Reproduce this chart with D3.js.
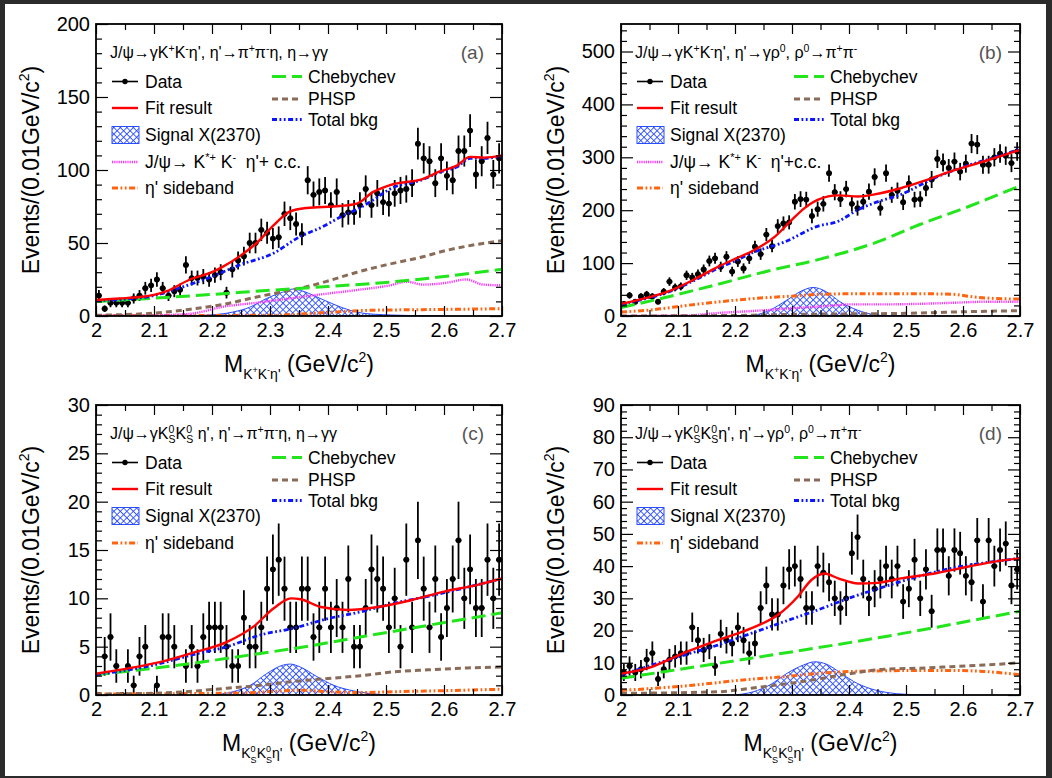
<!DOCTYPE html>
<html><head><meta charset="utf-8">
<script src="https://cdn.jsdelivr.net/npm/d3@7"></script>
<style>
html,body{margin:0;padding:0;background:#2b2b2b;}
svg{display:block;}
text{font-family:"Liberation Sans",Arial,Helvetica,sans-serif;white-space:pre;}
</style></head><body>
<svg id="chart" width="1052" height="778"></svg>
<script>
// ---------------- data ----------------
const massLow = 2.0, binWidth = 0.01;
const xTickValues = [2.0, 2.1, 2.2, 2.3, 2.4, 2.5, 2.6, 2.7];
const xTickLabels = ["2", "2.1", "2.2", "2.3", "2.4", "2.5", "2.6", "2.7"];
const xMinorTicks = [2.05, 2.15, 2.25, 2.35, 2.45, 2.55, 2.65];

const yTicksA = [0, 50, 100, 150, 200];
const yTicksB = [0, 100, 200, 300, 400, 500];
const yTicksC = [0, 5, 10, 15, 20, 25, 30];
const yTicksD = [0, 10, 20, 30, 40, 50, 60, 70, 80, 90];

// events per 0.01 GeV bin, 2.00 - 2.70
const eventsA = [14,5,9,9,9,9,12,14,19,21, 25,19,14,17,18,35,26,26,27,25, 28,30,16,32,38,41,50,50,59,57,
  53,54,70,67,63,56,93,83,85,86, 76,85,69,71,71,76,87,76,84,78, 77,84,86,87,91,118,108,106,91,108,
  96,93,113,113,127,97,106,122,97,108];
const eventsB = [23,39,27,37,41,37,27,46,65,54, 56,77,73,79,88,104,109,93,112,84, 103,90,109,131,117,154,132,170,175,177,
  216,221,220,189,202,212,270,234,221,240, 212,204,216,235,263,204,270,229,237,215, 250,220,221,242,258,297,290,280,292,273,
  288,326,324,286,286,300,307,303,289,311];
const eventsC = [0,4,6,3,0,3,1,4,5,0, 1,6,6,5,0,3,5,3,6,7, 7,7,5,3,3,8,5,5,7,11,
  13,14,11,7,7,11,11,6,7,11, 7,9,7,12,5,5,9,13,12,11, 7,10,5,14,7,16,11,7,12,6,
  9,12,16,10,13,9,9,14,10,14];
const eventsD = [7,9,7,8,11,13,5,8,11,12, 13,13,21,17,14,15,9,19,17,16, 21,17,13,16,27,34,25,25,34,39,
  40,36,27,27,40,38,35,30,27,30, 44,49,36,30,33,36,40,36,40,29, 33,42,30,39,26,45,45,37,45,44,
  37,35,48,29,48,40,45,47,34,39];

// curves: [mass, events]
const fitA = [[2.0,11],[2.04,12],[2.076,13],[2.1,14.5],[2.122,17],[2.162,25],[2.2,30],[2.219,33.8],[2.248,41],[2.277,50],[2.306,62],[2.334,71.5],[2.363,74],[2.42,75.3],[2.45,77],[2.478,85],[2.507,89.7],[2.564,94],[2.593,99],[2.622,103],[2.645,109],[2.67,108.5],[2.7,110]];
const bkgA = [[2.0,10.5],[2.05,11.5],[2.1,14],[2.15,20],[2.2,27],[2.248,35],[2.306,43],[2.35,54],[2.39,61],[2.425,68.5],[2.45,73],[2.478,79.5],[2.507,87],[2.564,93.5],[2.593,98.5],[2.622,102],[2.645,108],[2.67,108],[2.7,109.5]];
const chebA = [[2.0,10],[2.1,12.2],[2.2,14.8],[2.3,17.6],[2.4,20.2],[2.5,23],[2.6,27],[2.7,32]];
const phspA = [[2.0,0.5],[2.1,2],[2.16,4.5],[2.22,8],[2.277,13],[2.32,16.5],[2.363,20],[2.4,24],[2.45,30],[2.5,35],[2.564,40.6],[2.6,44.5],[2.65,48.6],[2.7,51.5]];
const kstA = [[2.0,0.3],[2.1,0.5],[2.162,1.5],[2.22,6.4],[2.277,9.1],[2.334,12],[2.392,15],[2.45,17.8],[2.507,21],[2.536,23.5],[2.564,21.5],[2.6,22.5],[2.639,25],[2.668,21.5],[2.7,21]];
const sbA = [[2.0,0.3],[2.3,0.5],[2.36,1.5],[2.41,2.7],[2.47,3.9],[2.55,4.3],[2.62,4.6],[2.7,5]];
const sigA = [[2.15,0],[2.2,0.8],[2.236,2.7],[2.265,6],[2.294,12],[2.323,16.5],[2.34,18.5],[2.352,17.6],[2.381,13],[2.41,8],[2.438,3.9],[2.467,1.6],[2.525,0.5],[2.6,0]];

const fitB = [[2.0,23],[2.04,33],[2.082,46],[2.13,70],[2.17,93],[2.2,108],[2.229,122],[2.27,150],[2.298,180],[2.322,204],[2.346,220],[2.381,228],[2.416,226],[2.445,230],[2.492,242],[2.522,252],[2.58,274],[2.639,293],[2.674,305],[2.7,314]];
const bkgB = [[2.0,22],[2.04,32],[2.082,45],[2.13,68],[2.17,90],[2.2,104],[2.229,119],[2.287,140],[2.346,170],[2.381,179],[2.416,201],[2.445,214],[2.492,230],[2.55,261],[2.61,285],[2.674,306],[2.7,316]];
const chebB = [[2.0,16],[2.074,34],[2.17,60],[2.258,85],[2.351,108],[2.45,140],[2.522,172],[2.61,207],[2.7,246]];
const phspB = [[2.0,0],[2.2,1],[2.3,3],[2.4,4],[2.5,5],[2.6,8],[2.7,10]];
const kstB = [[2.0,0],[2.115,1],[2.174,6],[2.232,9.5],[2.291,14],[2.349,18],[2.408,22],[2.466,22],[2.525,23],[2.583,25],[2.642,27],[2.7,27]];
const sbB = [[2.0,7.6],[2.057,12],[2.115,20],[2.174,27],[2.232,33],[2.291,37],[2.349,41],[2.408,42],[2.466,42],[2.525,42],[2.583,41],[2.612,37],[2.642,34],[2.7,32]];
const sigB = [[2.2,0],[2.232,1.5],[2.261,11],[2.291,30],[2.32,49],[2.337,54],[2.36,46],[2.384,27],[2.408,14],[2.437,4],[2.466,0.5],[2.5,0]];

const fitC = [[2.0,2.2],[2.06,2.8],[2.11,3.4],[2.169,4.4],[2.226,5.5],[2.272,7.1],[2.307,9.0],[2.336,10],[2.353,9.9],[2.388,9.1],[2.434,8.8],[2.486,9.1],[2.543,9.8],[2.6,10.7],[2.658,11.4],[2.7,12.05]];
const bkgC = [[2.0,2.1],[2.1,3.1],[2.169,4.2],[2.226,5.0],[2.283,6.2],[2.34,6.9],[2.4,7.9],[2.456,8.6],[2.514,9.5],[2.572,10.2],[2.63,11],[2.7,12.05]];
const chebC = [[2.0,2.1],[2.169,3.3],[2.283,4.3],[2.34,4.8],[2.456,6.0],[2.572,7.2],[2.7,8.5]];
const phspC = [[2.0,0.1],[2.11,0.2],[2.226,0.7],[2.283,1.0],[2.34,1.4],[2.4,1.7],[2.456,2.0],[2.514,2.4],[2.572,2.6],[2.64,2.8],[2.7,2.9]];
const sbC = [[2.0,0.1],[2.25,0.2],[2.3,0.35],[2.35,0.5],[2.4,0.35],[2.45,0.25],[2.52,0.35],[2.6,0.45],[2.7,0.6]];
const sigC = [[2.2,0],[2.237,0.35],[2.266,1.0],[2.294,2.2],[2.323,3.1],[2.335,3.2],[2.352,2.9],[2.381,1.9],[2.41,1.0],[2.438,0.5],[2.467,0.2],[2.5,0]];

const fitD = [[2.0,6.6],[2.05,8.5],[2.111,13.1],[2.17,17],[2.228,20.7],[2.275,24.8],[2.31,30.5],[2.334,35.7],[2.357,37.7],[2.381,36.2],[2.416,34.6],[2.45,34.8],[2.491,36.2],[2.55,37.7],[2.608,39.8],[2.667,41.7],[2.7,42.4]];
const bkgD = [[2.0,6.2],[2.111,12.4],[2.17,15.5],[2.228,19.1],[2.287,22.8],[2.345,26.4],[2.404,30.3],[2.462,33.6],[2.52,36.7],[2.579,39.3],[2.637,41],[2.7,42.4]];
const chebD = [[2.0,5.2],[2.228,11.4],[2.462,18.1],[2.7,26]];
const phspD = [[2.0,0.5],[2.17,1.0],[2.228,2.1],[2.287,3.4],[2.345,4.9],[2.404,6.7],[2.462,8.0],[2.52,8.3],[2.579,8.8],[2.637,9.3],[2.7,10]];
const sbD = [[2.0,1.4],[2.111,2.8],[2.228,4.9],[2.287,5.7],[2.345,6.7],[2.404,7.3],[2.462,7.5],[2.52,7.6],[2.579,7.6],[2.637,7.3],[2.7,6.3]];
const sigD = [[2.2,0],[2.232,1],[2.261,3.1],[2.291,6.7],[2.32,9.3],[2.34,10.3],[2.36,9.6],[2.384,7],[2.408,4.2],[2.437,2],[2.466,0.8],[2.5,0.2],[2.55,0]];

// ---------------- text pieces ----------------
const S = 16, s = 10.5;
const headerA = [{t:"J/ψ→γK",s:S},{t:"+",s:s,o:-6},{t:"K",s:S},{t:"-",s:s,o:-6},{t:"η', η'→π",s:S},{t:"+",s:s,o:-6},{t:"π",s:S},{t:"-",s:s,o:-6},{t:"η, η→γγ",s:S}];
const headerB = [{t:"J/ψ→γK",s:S},{t:"+",s:s,o:-6},{t:"K",s:S},{t:"-",s:s,o:-6},{t:"η', η'→γρ",s:S},{t:"0",s:s,o:-6},{t:", ρ",s:S},{t:"0",s:s,o:-6},{t:"→π",s:S},{t:"+",s:s,o:-6},{t:"π",s:S},{t:"-",s:s,o:-6}];
const headerC = [{t:"J/ψ→γK",s:S},{t:"0",s:s,o:-6},{t:"S",s:s,o:4,back:true},{t:"K",s:S},{t:"0",s:s,o:-6},{t:"S",s:s,o:4,back:true},{t:" η', η'→π",s:S},{t:"+",s:s,o:-6},{t:"π",s:S},{t:"-",s:s,o:-6},{t:"η, η→γγ",s:S}];
const headerD = [{t:"J/ψ→γK",s:S},{t:"0",s:s,o:-6},{t:"S",s:s,o:4,back:true},{t:"K",s:S},{t:"0",s:s,o:-6},{t:"S",s:s,o:4,back:true},{t:"η', η'→γρ",s:S},{t:"0",s:s,o:-6},{t:", ρ",s:S},{t:"0",s:s,o:-6},{t:"→π",s:S},{t:"+",s:s,o:-6},{t:"π",s:S},{t:"-",s:s,o:-6}];

const xTitleKK = [{t:"M",s:23},{t:"K",s:14,o:7},{t:"+",s:9,o:1},{t:"K",s:14,o:7},{t:"-",s:9,o:1},{t:"η'",s:14,o:7},{t:" (GeV/c",s:23},{t:"2",s:14,o:-10},{t:")",s:23}];
const xTitleKS = [{t:"M",s:23},{t:"K",s:14,o:7},{t:"0",s:9,o:1},{t:"S",s:9,o:12,back:true},{t:"K",s:14,o:7},{t:"0",s:9,o:1},{t:"S",s:9,o:12,back:true},{t:"η'",s:14,o:7},{t:" (GeV/c",s:23},{t:"2",s:14,o:-10},{t:")",s:23}];
const yTitle = [{t:"Events/(0.01GeV/c",s:23},{t:"2",s:14,o:-10},{t:")",s:23}];

const LS = 17.5;
const legKstA = [{t:"J/ψ→ K",s:LS},{t:"*+",s:11,o:-7},{t:" K",s:LS},{t:"-",s:11,o:-7},{t:"  η'+ c.c.",s:LS}];
const legKstB = [{t:"J/ψ→ K",s:LS},{t:"*+",s:11,o:-7},{t:" K",s:LS},{t:"-",s:11,o:-7},{t:"  η'+c.c.",s:LS}];

// ---------------- styles ----------------
const st = {
  fit:  {stroke:"#ff0000", w:2.4, dash:null},
  bkg:  {stroke:"#0a14ff", w:2.8, dash:"5,2.5,1.8,2.5,1.8,2.5"},
  cheb: {stroke:"#22e51c", w:3, dash:"14,6"},
  phsp: {stroke:"#8a6b58", w:3, dash:"6,4"},
  kst:  {stroke:"#ff33ff", w:2.4, dash:"1.2,1"},
  sb:   {stroke:"#ff6410", w:3, dash:"6,2.5,1.8,2.5,1.8,2.5"}
};

const svg = d3.select("#chart");
svg.append("rect").attr("width",1052).attr("height",778).attr("fill","#2b2b2b");
svg.append("rect").attr("x",5).attr("y",4).attr("width",1041).attr("height",772).attr("fill","#ffffff");

const defs = svg.append("defs");
const pat = defs.append("pattern").attr("id","hatch").attr("patternUnits","userSpaceOnUse")
  .attr("width",4.6).attr("height",4.6).attr("patternTransform","rotate(45)");
pat.append("path").attr("d","M0.5,0V4.6M0,0.5H4.6").attr("stroke","#2a4cff").attr("stroke-width",0.9).attr("fill","none");

function rich(textSel, parts) {
  let cur = 0, prev = null;
  parts.forEach(p => {
    const ts = textSel.append("tspan").attr("font-size", p.s).text(p.t);
    const off = p.o || 0;
    if (off - cur !== 0) ts.attr("dy", off - cur);
    cur = off;
    if (p.back && prev) ts.attr("dx", -prev.getComputedTextLength());
    prev = ts.node();
  });
}

const panels = [
  {left:96, right:502, top:24, bottom:316, yMax:200, yTicks:yTicksA, yMinor:10, data:eventsA,
   fit:fitA, bkg:bkgA, cheb:chebA, phsp:phspA, kst:kstA, sb:sbA, sig:sigA,
   header:headerA, label:"(a)", xTitle:xTitleKK, legKst:legKstA, rcol:[176,212]},
  {left:621, right:1020, top:24, bottom:316, yMax:552, yTicks:yTicksB, yMinor:20, data:eventsB,
   fit:fitB, bkg:bkgB, cheb:chebB, phsp:phspB, kst:kstB, sb:sbB, sig:sigB,
   header:headerB, label:"(b)", xTitle:xTitleKK, legKst:legKstB, rcol:[173,209]},
  {left:96, right:502, top:405, bottom:695, yMax:30, yTicks:yTicksC, yMinor:1, data:eventsC,
   fit:fitC, bkg:bkgC, cheb:chebC, phsp:phspC, kst:null, sb:sbC, sig:sigC,
   header:headerC, label:"(c)", xTitle:xTitleKS, legKst:null, rcol:[176,212]},
  {left:621, right:1020, top:405, bottom:695, yMax:90, yTicks:yTicksD, yMinor:2, data:eventsD,
   fit:fitD, bkg:bkgD, cheb:chebD, phsp:phspD, kst:null, sb:sbD, sig:sigD,
   header:headerD, label:"(d)", xTitle:xTitleKS, legKst:null, rcol:[173,209]}
];

panels.forEach((p, pi) => {
  const x = d3.scaleLinear().domain([2.0, 2.7]).range([p.left, p.right]);
  const y = d3.scaleLinear().domain([0, p.yMax]).range([p.bottom, p.top]);
  const g = svg.append("g");
  const clipId = "clip" + pi;
  defs.append("clipPath").attr("id", clipId).append("rect")
    .attr("x", p.left).attr("y", p.top).attr("width", p.right - p.left).attr("height", p.bottom - p.top);

  // signal hatched area
  const area = d3.area().x(d => x(d[0])).y0(y(0)).y1(d => y(d[1])).curve(d3.curveMonotoneX);
  g.append("path").attr("d", area(p.sig)).attr("fill","url(#hatch)").attr("stroke","#2a4cff")
    .attr("stroke-width",1).attr("clip-path",`url(#${clipId})`);

  // data points
  const pts = p.data.map((v, i) => ({xc: massLow + binWidth * (i + 0.5), v}));
  const dg = g.append("g").attr("clip-path",`url(#${clipId})`);
  pts.forEach(d => {
    const e = Math.sqrt(d.v);
    if (d.v > 0) {
      dg.append("line").attr("x1", x(d.xc)).attr("x2", x(d.xc))
        .attr("y1", y(d.v - e)).attr("y2", y(d.v + e)).attr("stroke","#000").attr("stroke-width",1.8);
    }
    dg.append("line").attr("x1", x(d.xc - binWidth/2)).attr("x2", x(d.xc + binWidth/2))
      .attr("y1", y(d.v)).attr("y2", y(d.v)).attr("stroke","#000").attr("stroke-width",1.8);
    dg.append("circle").attr("cx", x(d.xc)).attr("cy", y(d.v)).attr("r", 2.9).attr("fill","#000");
  });

  // curves
  const line = d3.line().x(d => x(d[0])).y(d => y(d[1])).curve(d3.curveMonotoneX);
  const cg = g.append("g").attr("clip-path",`url(#${clipId})`).attr("fill","none");
  const drawCurve = (arr, sty) => {
    if (!arr) return;
    const path = cg.append("path").attr("d", line(arr)).attr("stroke", sty.stroke).attr("stroke-width", sty.w);
    if (sty.dash) path.attr("stroke-dasharray", sty.dash);
  };
  drawCurve(p.sb, st.sb);
  drawCurve(p.kst, st.kst);
  drawCurve(p.phsp, st.phsp);
  drawCurve(p.cheb, st.cheb);
  drawCurve(p.bkg, st.bkg);
  drawCurve(p.fit, st.fit);

  // axes (inward ticks on all sides)
  const xMaj = d3.axisBottom(x).tickValues(xTickValues).tickSize(-10).tickPadding(7)
    .tickFormat((d, i) => xTickLabels[i]);
  const gx = g.append("g").attr("transform", `translate(0,${p.bottom})`).call(xMaj);
  gx.select(".domain").remove();
  gx.selectAll("text").attr("font-size", 20).attr("font-family", '"Liberation Sans",Arial,sans-serif').attr("fill","#000");
  g.append("g").attr("transform", `translate(0,${p.bottom})`)
    .call(d3.axisBottom(x).tickValues(xMinorTicks).tickSize(-6).tickFormat(""))
    .select(".domain").remove();
  g.append("g").attr("transform", `translate(0,${p.top})`)
    .call(d3.axisTop(x).tickValues(xTickValues).tickSize(-10).tickFormat(""))
    .select(".domain").remove();
  g.append("g").attr("transform", `translate(0,${p.top})`)
    .call(d3.axisTop(x).tickValues(xMinorTicks).tickSize(-6).tickFormat(""))
    .select(".domain").remove();

  const yMinorTicks = d3.range(0, p.yMax + 1e-9, p.yMinor).filter(v => !p.yTicks.some(t => Math.abs(t - v) < 1e-9));
  const gy = g.append("g").attr("transform", `translate(${p.left},0)`)
    .call(d3.axisLeft(y).tickValues(p.yTicks).tickSize(-12).tickPadding(6).tickFormat(d3.format("d")));
  gy.select(".domain").remove();
  gy.selectAll("text").attr("font-size", 20).attr("font-family", '"Liberation Sans",Arial,sans-serif').attr("fill","#000");
  g.append("g").attr("transform", `translate(${p.left},0)`)
    .call(d3.axisLeft(y).tickValues(yMinorTicks).tickSize(-6).tickFormat(""))
    .select(".domain").remove();
  g.append("g").attr("transform", `translate(${p.right},0)`)
    .call(d3.axisRight(y).tickValues(p.yTicks).tickSize(-12).tickFormat(""))
    .select(".domain").remove();
  g.append("g").attr("transform", `translate(${p.right},0)`)
    .call(d3.axisRight(y).tickValues(yMinorTicks).tickSize(-6).tickFormat(""))
    .select(".domain").remove();
  g.selectAll(".tick line").attr("stroke","#000").attr("stroke-width",1.2);

  // frame
  g.append("rect").attr("x", p.left).attr("y", p.top).attr("width", p.right - p.left)
    .attr("height", p.bottom - p.top).attr("fill","none").attr("stroke","#000").attr("stroke-width",1.8);

  // titles
  const xt = g.append("text").attr("x", (p.left + p.right) / 2).attr("y", p.bottom + 56)
    .attr("text-anchor","middle").attr("fill","#000");
  rich(xt, p.xTitle);
  const yt = g.append("text").attr("transform", `translate(${p.left - 57.5},${(p.top + p.bottom) / 2}) rotate(-90)`)
    .attr("text-anchor","middle").attr("fill","#000");
  rich(yt, yTitle);

  // header & label
  const ht = g.append("text").attr("x", p.left + 14).attr("y", p.top + 34).attr("fill","#000");
  rich(ht, p.header);
  g.append("text").attr("x", p.right - 18).attr("y", p.top + 35).attr("text-anchor","end")
    .attr("font-family",'"Liberation Serif","Times New Roman",serif').attr("font-size",19)
    .attr("fill","#555").text(p.label);

  // legend
  const lx1 = p.left + 16, lx2 = p.left + 42, ltx = p.left + 49;
  const leftRows = [57.5, 84, 111, 138, 164].map(v => p.top + v);
  const lg = g.append("g");
  const legLine = (x1, x2, yc, sty) => {
    const l = lg.append("line").attr("x1", x1).attr("x2", x2).attr("y1", yc).attr("y2", yc)
      .attr("stroke", sty.stroke).attr("stroke-width", sty.w);
    if (sty.dash) l.attr("stroke-dasharray", sty.dash);
  };
  const legText = (tx, yc, parts) => {
    const t = lg.append("text").attr("x", tx).attr("y", yc + 6).attr("fill","#000");
    if (typeof parts === "string") t.attr("font-size", LS).text(parts); else rich(t, parts);
  };
  // Data
  lg.append("line").attr("x1", lx1).attr("x2", lx2).attr("y1", leftRows[0]).attr("y2", leftRows[0])
    .attr("stroke","#000").attr("stroke-width",1.6);
  lg.append("circle").attr("cx", (lx1 + lx2) / 2).attr("cy", leftRows[0]).attr("r", 2.7).attr("fill","#000");
  legText(ltx, leftRows[0], "Data");
  legLine(lx1, lx2, leftRows[1], st.fit);
  legText(ltx, leftRows[1], "Fit result");
  lg.append("rect").attr("x", lx1).attr("y", leftRows[2] - 8.5).attr("width", lx2 - lx1 + 1).attr("height", 17)
    .attr("fill","url(#hatch)").attr("stroke","#2a4cff").attr("stroke-width",1);
  legText(ltx, leftRows[2], "Signal X(2370)");
  let row = 3;
  if (p.legKst) {
    legLine(lx1, lx2, leftRows[row], st.kst);
    legText(ltx, leftRows[row], p.legKst);
    row++;
  }
  legLine(lx1, lx2, leftRows[row], st.sb);
  legText(ltx, leftRows[row], [{t:"η' sideband", s:LS}]);

  const rx1 = p.left + p.rcol[0], rx2 = rx1 + 30, rtx = p.left + p.rcol[1];
  const rightRows = [52.5, 75, 95.5].map(v => p.top + v);
  legLine(rx1, rx2, rightRows[0], st.cheb);
  legText(rtx, rightRows[0], "Chebychev");
  legLine(rx1, rx2, rightRows[1], st.phsp);
  legText(rtx, rightRows[1], "PHSP");
  legLine(rx1, rx2, rightRows[2], st.bkg);
  legText(rtx, rightRows[2], "Total bkg");
});
</script>
</body></html>
